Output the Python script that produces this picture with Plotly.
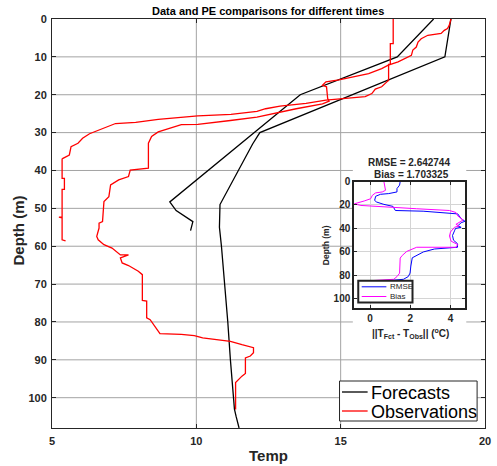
import plotly.graph_objects as go

# ---------------- data ----------------
# Forecast profiles (temperature, depth)
fc1_temp = [18.22, 16.96, 13.6, 9.08, 9.3, 9.88, 9.8]
fc1_depth = [0, 10, 20, 48.3, 50.6, 53.5, 55.9]

fc2_temp = [18.82, 18.61, 12.2, 11.95, 10.82, 10.8, 10.87, 10.99, 11.09, 11.18, 11.27, 11.32, 11.38, 11.48]
fc2_depth = [0, 10, 30, 33, 49, 55, 60, 70, 80, 90, 100, 103, 105, 108]

# Observation profiles
obs1_temp = [16.82, 16.82, 16.72, 16.72, 16.66, 16.66, 16.6, 16.42, 16.2, 16.08, 15.85, 15.4, 14.83,
             14.49, 13.8, 12.9, 12.4, 12.1, 11.2, 10.05, 8.68, 7.9, 7.2, 6.9, 6.74, 6.3, 6.06, 5.9,
             5.66, 5.6, 5.38, 5.35, 5.35, 5.43, 5.43, 5.35, 5.35, 5.24, 5.35, 5.35, 5.47]
obs1_depth = [0, 6.5, 6.5, 12, 12, 16.2, 16.6, 17.9, 18.5, 19.7, 20.5, 20.8, 21.0,
              21.4, 22.3, 23.0, 23.7, 24.4, 25.2, 25.6, 26.5, 27.3, 27.6, 28.5, 29.0, 30.3, 31.5, 32.8,
              33.7, 35.9, 36.8, 37.0, 42.1, 42.1, 45.0, 45.0, 52.3, 52.3, 52.5, 58.3, 58.6]

obs2_temp = [18.82, 18.76, 18.7, 18.59, 18.48, 18.02, 17.79, 17.68, 17.62, 17.5, 17.45, 17.22, 16.99,
             16.65, 16.42, 15.97, 15.4, 14.94, 14.49, 14.37, 14.51, 14.55, 14.6, 14.37, 13.46, 12.89,
             12.33, 12.1, 11.18, 10.62, 10.05, 9.48, 8.68, 8.45, 8.34, 8.34, 7.71, 7.65, 7.31, 7.03,
             6.97, 6.8, 6.75, 6.63, 6.63, 6.55, 6.6, 6.8, 7.08, 7.37, 7.65, 7.37, 7.43, 7.65, 7.99,
             8.13, 8.13, 8.28, 8.28, 8.4, 8.57, 8.7, 8.74, 9.48, 9.93, 10.22, 11.18, 11.58, 11.98,
             11.98, 11.87, 11.7, 11.7, 11.58, 11.41, 11.36, 11.36]
obs2_depth = [0, 1.7, 2.5, 3.0, 3.8, 4.3, 5.2, 6.1, 7.4, 8.2, 9.6, 10.4, 11.3,
              12.2, 13.1, 14.4, 15.3, 16.1, 16.6, 17.5, 17.9, 21.0, 21.7, 22.4, 23.7, 24.6,
              25.5, 25.9, 26.8, 27.2, 27.8, 27.9, 29.8, 31.0, 32.8, 39.4, 39.9, 41.6, 42.5, 43.8,
              46.9, 48.2, 53.5, 53.9, 55.2, 57.4, 58.3, 59.6, 60.5, 62.3, 62.3, 63.1, 64.4, 65.1, 66.6,
              67.5, 74.3, 74.5, 78.9, 79.4, 81.1, 82.4, 83.1, 83.3, 83.6, 84.2, 85.1, 86.0, 86.8,
              88.1, 89.0, 89.5, 93.6, 94.3, 95.6, 96.0, 103.1]

# Inset error profiles
rmse_val = [1.50, 1.47, 1.34, 1.34, 0.93, 0.52, 0.28, 0.23, 0.33, 0.69, 1.14, 1.21, 1.26, 2.64, 4.36,
            4.53, 4.72, 4.53, 4.36, 4.53, 4.25, 4.2, 4.1, 4.15, 4.35, 4.35, 3.6, 3.2, 2.65, 2.4, 2.1,
            2.03, 1.99, 1.9, 1.66, 1.2, 0.2, -0.5]
rmse_depth = [0, 3.1, 6.0, 8.9, 10.3, 10.9, 12.6, 16.1, 17.5, 19.5, 21.2, 23.2, 24.7, 25.3, 27.6,
              31.6, 33.9, 35.1, 37.8, 39.0, 40.0, 42.0, 46.0, 50.0, 53.0, 56.0, 56.6, 57.5, 60.0, 62.5, 65.0,
              72.0, 78.0, 81.0, 83.3, 84.0, 84.5, 85.0]

bias_val = [0.69, 0.72, 0.77, 0.61, 0.28, 0.12, 0.03, -0.29, -0.54, -0.78, -0.45, 0.69, 2.32, 3.95,
            4.27, 4.36, 4.63, 4.27, 4.43, 4.2, 4.0, 3.95, 4.03, 4.36, 4.27, 2.32, 1.83, 1.6, 1.5, 1.47,
            1.34, 1.18, 0.2, -0.5]
bias_depth = [0, 4.0, 7.5, 8.9, 9.7, 11.7, 14.7, 16.6, 17.5, 19.0, 20.4, 21.8, 23.2, 24.7,
              26.4, 29.3, 32.8, 36.5, 37.8, 39.0, 43.0, 46.5, 50.8, 53.7, 56.0, 56.0, 59.5, 63.0, 65.2, 78.1,
              81.0, 83.3, 84.5, 85.0]

main_xticks = [5, 10, 15, 20]
main_yticks = [0, 10, 20, 30, 40, 50, 60, 70, 80, 90, 100]
inset_xticks = [0, 2, 4]
inset_yticks = [0, 20, 40, 60, 80, 100]

main_legend_labels = ["Forecasts", "Observations"]
inset_legend_labels = ["RMSE", "Bias"]

# ---------------- figure ----------------
W, H = 497, 466
L, R, T, B = 52, 6, 19, 38
PW, PH = W - L - R, H - T - B


def px(xp):
    return (xp - L) / PW


def py(yp):
    return 1 - (yp - T) / PH


FONT = "Liberation Sans"
TXT = "#262626"
C_FC, C_OBS, C_RMSE, C_BIAS = "black", "red", "#0000ff", "#ff00ff"

fig = go.Figure()

fig.add_trace(go.Scatter(x=fc1_temp, y=fc1_depth, mode="lines", name=main_legend_labels[0],
                         line=dict(color=C_FC, width=1.3), showlegend=False))
fig.add_trace(go.Scatter(x=fc2_temp, y=fc2_depth, mode="lines", name=main_legend_labels[0],
                         line=dict(color=C_FC, width=1.3), showlegend=False))
fig.add_trace(go.Scatter(x=obs1_temp, y=obs1_depth, mode="lines", name=main_legend_labels[1],
                         line=dict(color=C_OBS, width=1.3), showlegend=False))
fig.add_trace(go.Scatter(x=obs2_temp, y=obs2_depth, mode="lines", name=main_legend_labels[1],
                         line=dict(color=C_OBS, width=1.3), showlegend=False))

fig.add_trace(go.Scatter(x=rmse_val, y=rmse_depth, mode="lines", name=inset_legend_labels[0],
                         xaxis="x2", yaxis="y2", line=dict(color=C_RMSE, width=1), showlegend=False))
fig.add_trace(go.Scatter(x=bias_val, y=bias_depth, mode="lines", name=inset_legend_labels[1],
                         xaxis="x2", yaxis="y2", line=dict(color=C_BIAS, width=1), showlegend=False))

# main gridlines (lower layer) + white patch behind inset
shapes = []
GRID = "#a3a3a3"
for v in main_xticks[1:-1]:
    shapes.append(dict(type="line", xref="x", yref="paper", x0=v, x1=v, y0=0, y1=1,
                       line=dict(color=GRID, width=1), layer="below"))
for v in main_yticks[1:]:
    shapes.append(dict(type="line", xref="paper", yref="y", x0=0, x1=1, y0=v, y1=v,
                       line=dict(color=GRID, width=1), layer="below"))
shapes.append(dict(type="rect", xref="paper", yref="paper", x0=px(357), x1=px(472), y0=py(327), y1=py(156),
                   fillcolor="white", line=dict(width=0), layer="below"))

# legend boxes (drawn as in the reference)
ann = []
# main legend
shapes.append(dict(type="rect", xref="paper", yref="paper", x0=px(343.5), x1=px(483), y0=py(421), y1=py(381),
                   fillcolor="white", line=dict(color=TXT, width=1), layer="above"))
for lab, col, yc in [(main_legend_labels[0], C_FC, 392), (main_legend_labels[1], C_OBS, 411)]:
    shapes.append(dict(type="line", xref="paper", yref="paper", x0=px(346), x1=px(372), y0=py(yc), y1=py(yc),
                       line=dict(color=col, width=1.3), layer="above"))
    ann.append(dict(text=lab, x=px(373), y=py(yc + 0.5), xanchor="left", yanchor="middle",
                    font=dict(size=18, color="black")))
# inset legend
shapes.append(dict(type="rect", xref="paper", yref="paper", x0=px(362.5), x1=px(417.5), y0=py(302.5), y1=py(280.8),
                   fillcolor="white", line=dict(color="#222222", width=2), layer="above"))
for lab, col, yc in [(inset_legend_labels[0], C_RMSE, 286.8), (inset_legend_labels[1], C_BIAS, 296.5)]:
    shapes.append(dict(type="line", xref="paper", yref="paper", x0=px(366), x1=px(391), y0=py(yc), y1=py(yc),
                       line=dict(color=col, width=1), layer="above"))
    ann.append(dict(text=lab, x=px(392.5), y=py(yc), xanchor="left", yanchor="middle",
                    font=dict(size=8, color=TXT)))

ix0, ix1 = px(358.5), px(470.7)
iy0, iy1 = py(308.3), py(181.5)

fig.update_layout(
    width=W, height=H,
    margin=dict(l=L, r=R, t=T, b=B, pad=0),
    paper_bgcolor="white", plot_bgcolor="white",
    font=dict(family=FONT, color=TXT),
    shapes=shapes,
    showlegend=False,
    xaxis=dict(domain=[0, 1], range=[5, 20], tickvals=main_xticks, showgrid=False, zeroline=False,
               showline=True, linecolor=TXT, linewidth=1, mirror="allticks", ticks="inside",
               ticklen=4, tickcolor=TXT, tickfont=dict(size=11, color=TXT, weight="bold"),
               ticklabelstandoff=3, ticklabeloverflow="allow"),
    yaxis=dict(domain=[0, 1], range=[108, 0], tickvals=main_yticks, showgrid=False, zeroline=False,
               showline=True, linecolor=TXT, linewidth=1, mirror="allticks", ticks="inside",
               ticklen=4, tickcolor=TXT, tickfont=dict(size=11, color=TXT, weight="bold"),
               ticklabelstandoff=2, ticklabeloverflow="allow"),
    xaxis2=dict(domain=[ix0, ix1], anchor="y2", range=[-0.78, 4.72], tickvals=inset_xticks,
                showgrid=True, gridcolor="#d4d4d4", gridwidth=1, zeroline=False,
                showline=True, linecolor="#222222", linewidth=2, mirror="allticks", ticks="inside",
                ticklen=3, tickcolor=TXT, tickfont=dict(size=10, color=TXT, weight="bold")),
    yaxis2=dict(domain=[iy0, iy1], anchor="x2", range=[108, 0], tickvals=inset_yticks,
                showgrid=True, gridcolor="#d4d4d4", gridwidth=1, zeroline=False,
                showline=True, linecolor="#222222", linewidth=2, mirror="allticks", ticks="inside",
                ticklen=3, tickcolor=TXT, tickfont=dict(size=10, color=TXT, weight="bold")),
)

ann += [
    dict(text="<b>Data and PE comparisons for different times</b>", x=px(271), y=py(11),
         font=dict(size=11, color="black")),
    dict(text="<b>Depth (m)</b>", x=px(18), y=py(230), textangle=-90, font=dict(size=15, color=TXT)),
    dict(text="<b>Temp</b>", x=px(272), y=py(455), font=dict(size=15, color=TXT)),
    dict(text="<b>RMSE = 2.642744</b>", x=px(414), y=py(162.5), font=dict(size=10, color=TXT)),
    dict(text="<b>Bias = 1.703325</b>", x=px(416), y=py(174.5), font=dict(size=10, color=TXT)),
    dict(text="<b>Depth (m)</b>", x=px(330), y=py(245), textangle=-90, font=dict(size=8.5, color=TXT)),
    dict(text="||T<sub>Fct</sub> - T<sub>Obs</sub>|| (<sup>o</sup>C)", x=px(415), y=py(333),
         font=dict(size=10, color=TXT, weight="bold")),
]
for a in ann:
    a.setdefault("xanchor", "center")
    a.setdefault("yanchor", "middle")
    a.update(xref="paper", yref="paper", showarrow=False)
fig.update_layout(annotations=ann)

fig.write_html("out.html", config={"displayModeBar": False},
               post_script="document.body.style.margin='0px';document.body.style.padding='0px';")
